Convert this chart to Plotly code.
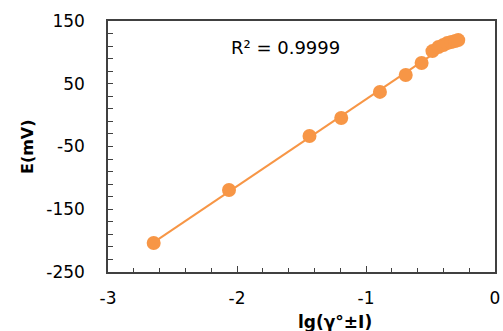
import numpy as np
import plotly.graph_objects as go

lg_x = [-2.646, -2.062, -1.438, -1.192, -0.892, -0.692, -0.569,
        -0.485, -0.438, -0.400, -0.369, -0.338, -0.308, -0.285]
E_mV = [-203.8, -119.3, -33.3, -4.6, 37.0, 64.0, 83.0,
        102.0, 108.6, 111.8, 115.0, 116.5, 118.0, 119.6]
x_ticks = [-3, -2, -1, 0]
y_ticks = [-250, -150, -50, 50, 150]
r2_text = "R² = 0.9999"

orange = "#F79646"
fx = np.array(lg_x)
fy = np.array(E_mV)
k, b = np.polyfit(fx, fy, 1)
lx = np.array([fx.min(), fx.max()])
ly = k * lx + b

fig = go.Figure()
fig.add_trace(go.Scatter(x=lx, y=ly, mode="lines",
                         line=dict(color=orange, width=2), hoverinfo="skip"))
fig.add_trace(go.Scatter(x=lg_x, y=E_mV, mode="markers",
                         marker=dict(color=orange, size=14, line=dict(width=0))))

font = "DejaVu Sans, Liberation Sans, Arial, sans-serif"
L, R, T, B = 108, 3, 21, 59
pw, ph = 503 - L - R, 331 - T - B
fig.update_layout(
    width=503, height=331,
    margin=dict(l=L, r=R, t=T, b=B),
    plot_bgcolor="white", paper_bgcolor="white",
    showlegend=False,
    font=dict(family=font, size=17, color="black"),
    xaxis=dict(range=[-3, 0], tickvals=x_ticks, ticktext=[str(v) for v in x_ticks],
               showgrid=False, zeroline=False, showline=True, mirror=True,
               linecolor="#404040", linewidth=1.5,
               ticks="inside", ticklen=6, tickcolor="#404040",
               minor=dict(ticks="inside", dtick=0.2, tick0=-3, ticklen=4, tickcolor="#404040"),
               ticklabelstandoff=10, ticklabeloverflow="allow"),
    yaxis=dict(range=[-250, 150], tickvals=y_ticks, ticktext=[str(v) for v in y_ticks],
               showgrid=False, zeroline=False, showline=True, mirror=True,
               linecolor="#404040", linewidth=1.5,
               ticks="inside", ticklen=5, tickcolor="#404040",
               minor=dict(ticks="inside", dtick=20, tick0=-250, ticklen=5, tickcolor="#404040"),
               ticklabelstandoff=18, ticklabeloverflow="allow"),
)
fig.add_annotation(x=(288 - L) / pw, y=1 - (47 - T) / ph, xref="paper", yref="paper",
                   text=r2_text, showarrow=False, font=dict(size=18),
                   xanchor="center", yanchor="middle")
fig.add_annotation(x=(338 - L) / pw, y=-(322 - 272) / ph,
                   xref="paper", yref="paper", text="<b>lg(γ°±I)</b>",
                   showarrow=False, font=dict(size=17), xanchor="center", yanchor="middle")
fig.add_annotation(x=-(L - 26) / pw, y=1 - (147 - T) / ph,
                   xref="paper", yref="paper", text="<b>E(mV)</b>", textangle=-90,
                   showarrow=False, font=dict(size=16), xanchor="center", yanchor="middle")
fig.write_html("out.html")
